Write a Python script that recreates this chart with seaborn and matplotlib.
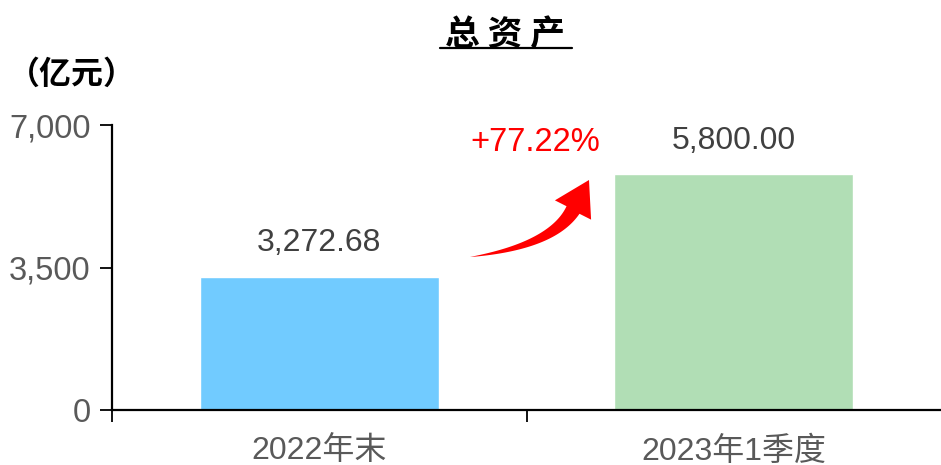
import matplotlib
matplotlib.use("Agg")
import numpy as np
import matplotlib.pyplot as plt
import seaborn as sns
import pandas as pd
from matplotlib.lines import Line2D
from matplotlib.patches import Polygon

# Data
periods = ["2022年末", "2023年1季度"]
total_assets = [3272.68, 5800.00]
bar_colors = ["#71CBFF", "#B1DEB5"]
y_ticks = [0, 3500, 7000]

growth = (total_assets[1] - total_assets[0]) / total_assets[0] * 100

W, H = 941, 465

sns.set_theme(style="white")
plt.rcParams["font.family"] = ["Liberation Sans", "Noto Sans CJK SC", "DejaVu Sans"]

df = pd.DataFrame({"period": periods, "value": total_assets})

fig = plt.figure(figsize=(W / 100, H / 100), dpi=100)
ax = fig.add_axes([112 / W, 55 / H, 829 / W, 285 / H])

sns.barplot(data=df, x="period", y="value", hue="period", palette=bar_colors,
            legend=False, width=0.577, ax=ax, saturation=1)

ax.set_xlim(-0.5, 1.5)
ax.set_ylim(0, 7000)
ax.set_xlabel("")
ax.set_ylabel("")

# Spines
for side in ("top", "right"):
    ax.spines[side].set_visible(False)
for side in ("left", "bottom"):
    ax.spines[side].set_color("black")
    ax.spines[side].set_linewidth(1.6)

# Y axis ticks
ax.set_yticks(y_ticks)
ax.set_yticklabels([f"{v:,}" for v in y_ticks])
ax.tick_params(axis="y", which="major", direction="out", length=8.5, width=1.3,
               color="black", pad=7, labelsize=23.5, labelcolor="#595959", left=True)

# X axis: labels at categories, tick marks at category boundaries
ax.set_xticks([0, 1])
ax.set_xticklabels(periods)
ax.tick_params(axis="x", which="major", length=0, pad=19, labelsize=23,
               labelcolor="#595959")
ax.set_xticks([-0.5, 0.5], minor=True)
ax.tick_params(axis="x", which="minor", direction="out", length=8.5, width=1.3,
               color="black", bottom=True)

# Value labels
for i, v in enumerate(total_assets):
    ax.annotate(f"{v:,.2f}", xy=(i, v), xytext=(0, 24), textcoords="offset points",
                ha="center", va="center", fontsize=23, color="#404040")


def curved_arrow(tail, ctrl, base, tip, shaft_w, head_w, n=60):
    """Tapered curved arrow; points given in figure pixels (origin top-left)."""
    p0, p1, p2 = (np.asarray(p, float) for p in (tail, ctrl, base))
    t = np.linspace(0, 1, n)[:, None]
    pts = (1 - t) ** 2 * p0 + 2 * (1 - t) * t * p1 + t ** 2 * p2
    d = 2 * (1 - t) * (p1 - p0) + 2 * t * (p2 - p1)
    d /= np.linalg.norm(d, axis=1, keepdims=True)
    nrm = np.column_stack([-d[:, 1], d[:, 0]])
    half = 0.5 * shaft_w * t[:, 0] ** 0.9
    left = pts + nrm * half[:, None]
    right = pts - nrm * half[:, None]
    hd = np.asarray(tip, float) - p2
    hd /= np.linalg.norm(hd)
    hn = np.array([-hd[1], hd[0]])
    head = [p2 + hn * head_w / 2, np.asarray(tip, float), p2 - hn * head_w / 2]
    outline = np.vstack([left, head, right[::-1]])
    outline[:, 0] /= W
    outline[:, 1] = 1 - outline[:, 1] / H
    return Polygon(outline, closed=True, transform=fig.transFigure,
                   facecolor="#FF0000", edgecolor="none")


# Growth arrow and label
fig.add_artist(curved_arrow(tail=(470, 257), ctrl=(552, 246), base=(573, 210),
                            tip=(589, 180), shaft_w=15, head_w=41))
ax.text(0.52, 6560, f"+{growth:.2f}%", ha="center", va="center",
        fontsize=23.5, color="#FF0000")

# Title with underline
fig.text(505 / W, 1 - 35 / H, "总 资 产", ha="center", va="center",
         fontsize=25, fontweight="bold", color="black",
         family=["Noto Sans CJK SC"])
fig.add_artist(Line2D([440 / W, 572 / W], [1 - 48 / H, 1 - 48 / H],
                      color="black", lw=1.6, transform=fig.transFigure))

# Unit label
fig.text(8 / W, 1 - 75 / H, "（亿元）", ha="left", va="center",
         fontsize=23, fontweight="bold", color="black",
         family=["Noto Sans CJK SC"])

fig.savefig("out.png", dpi=100, facecolor="white")
